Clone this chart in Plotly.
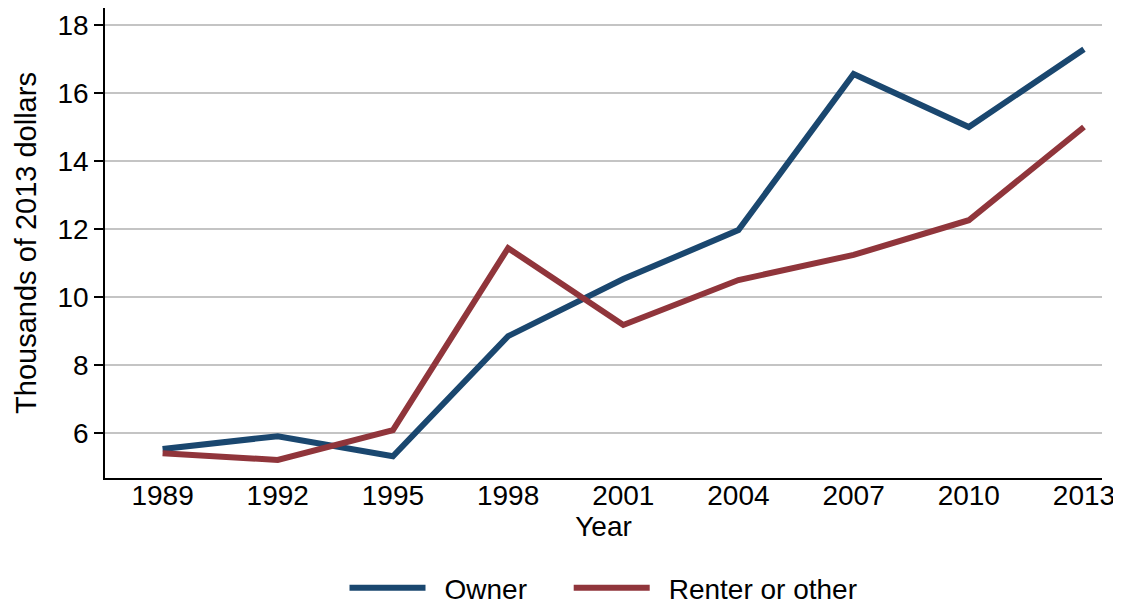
import plotly.graph_objects as go

years = [1989, 1992, 1995, 1998, 2001, 2004, 2007, 2010, 2013]
owner = [5.53, 5.91, 5.32, 8.85, 10.53, 11.97, 16.56, 15.0, 17.29]
renter = [5.41, 5.21, 6.09, 11.44, 9.18, 10.5, 11.24, 12.26, 15.0]
y_ticks = [6, 8, 10, 12, 14, 16, 18]
names = ["Owner", "Renter or other"]

FONT = "Liberation Sans, Arial, sans-serif"
FS = 28
LEAD = "\u2002"
TRAIL = "\u00a0\u00a0\u00a0\u00a0\u2009"

fig = go.Figure()
fig.add_trace(go.Scatter(x=years, y=owner, mode="lines", name=LEAD + names[0] + TRAIL,
                         line=dict(color="#1a476f", width=6)))
fig.add_trace(go.Scatter(x=years, y=renter, mode="lines", name=LEAD + names[1],
                         line=dict(color="#90353b", width=6)))

fig.update_layout(
    width=1113, height=595,
    margin=dict(l=97, r=19, t=0, b=125, autoexpand=False),
    paper_bgcolor="white", plot_bgcolor="white",
    font=dict(family=FONT, size=FS, color="black"),
    showlegend=True,
    legend=dict(orientation="h", x=0.5, xanchor="center", y=-0.234, yanchor="middle",
                font=dict(size=FS), itemwidth=76, tracegroupgap=0,
                bgcolor="rgba(0,0,0,0)"),
    xaxis=dict(range=[1987.5, 2013.47], tickvals=years, ticktext=[str(y) for y in years],
               showgrid=False, zeroline=False, showline=True, linecolor="black", linewidth=1.5,
               ticks="", tickfont=dict(size=FS), automargin=False, ticklabelstandoff=-8,
               title=dict(text="Year", font=dict(size=FS), standoff=2)),
    yaxis=dict(range=[4.68, 18.5], tickvals=y_ticks, showgrid=True, gridcolor="#c4c4c4",
               gridwidth=2, zeroline=False, showline=True, linecolor="black", linewidth=1.5,
               ticks="outside", ticklen=9, tickwidth=1.5, tickcolor="black",
               tickfont=dict(size=FS), automargin=False,
               title=dict(text="Thousands of 2013 dollars", font=dict(size=29), standoff=12)),
)

fig.write_html("out.html")
